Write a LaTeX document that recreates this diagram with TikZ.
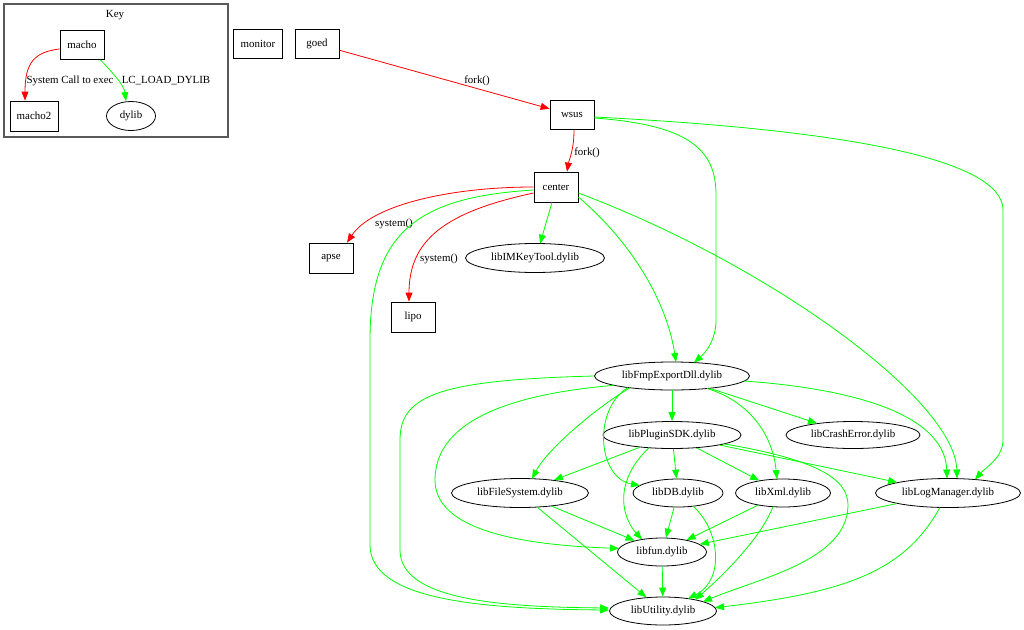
\documentclass[tikz,border=0pt]{standalone}
\usepackage{fontspec}
\setmainfont{Liberation Serif}
\usetikzlibrary{shapes.geometric,arrows.meta,calc}
\begin{document}
\begin{tikzpicture}[x=1pt,y=-1pt,
  every node/.style={font=\fontsize{10.9}{12}\selectfont},
  box/.style={draw=black,line width=0.8pt,rectangle,minimum width=44pt,minimum height=29pt,inner sep=0pt},
  lib/.style={draw=black,line width=0.8pt,ellipse,minimum height=28pt,inner sep=0pt},
  keyframe/.style={draw=black!65,line width=1.3pt,rectangle,inner sep=0pt},
  redge/.style={draw=red,line width=0.8pt,-{Triangle[length=9pt,width=7pt]}},
  gedge/.style={draw=green,line width=0.8pt,-{Triangle[length=9pt,width=7pt]}},
  lbl/.style={inner sep=1pt}
]
\useasboundingbox[fill=white] (0,0) rectangle (1024,629);

% Key
\node[keyframe,minimum width=224pt,minimum height=133pt] (keybox) at (116,70.5) {};
\node[lbl] (keytitle) at (115,15) {Key};
\node[box] (macho) at (82,45) {macho};
\node[box,minimum width=48pt,minimum height=30pt] (macho2) at (34,116) {macho2};
\node[lib,minimum width=49pt,minimum height=29pt] (dylib) at (131,116) {dylib};
\node[lbl] (lsys) at (70,81) {System Call to exec};
\node[lbl] (llc) at (166,81) {LC\_LOAD\_DYLIB};

% processes
\node[box,minimum width=49pt] (monitor) at (258,44) {monitor};
\node[box] (goed) at (317,44) {goed};
\node[box] (wsus) at (572,115) {wsus};
\node[box,minimum height=30pt] (center) at (556,187) {center};
\node[box,minimum height=30pt] (apse) at (331,258) {apse};
\node[box,minimum height=30pt] (lipo) at (413,317) {lipo};

% libraries
\node[lib,minimum width=139pt,minimum height=29pt] (imk) at (535,258) {libIMKeyTool.dylib};
\node[lib,minimum width=155pt] (libFmp) at (672,376) {libFmpExportDll.dylib};
\node[lib,minimum width=138pt,minimum height=27pt] (libPluginSDK) at (672,435) {libPluginSDK.dylib};
\node[lib,minimum width=134pt,minimum height=27pt] (libCrash) at (853,435) {libCrashError.dylib};
\node[lib,minimum width=137pt,minimum height=29pt] (libFS) at (520,493) {libFileSystem.dylib};
\node[lib,minimum width=90pt] (libDB) at (678,493) {libDB.dylib};
\node[lib,minimum width=95pt] (libXml) at (783,493) {libXml.dylib};
\node[lib,minimum width=145pt,minimum height=29pt] (libLog) at (948,493) {libLogManager.dylib};
\node[lib,minimum width=89pt] (libfun) at (662,552) {libfun.dylib};
\node[lib,minimum width=107pt] (libUtility) at (663,611) {libUtility.dylib};

% labels
\node[lbl] (lfork1) at (477,81) {fork()};
\node[lbl] (lfork2) at (587,153) {fork()};
\node[lbl] (lsys1) at (394,224) {system()};
\node[lbl] (lsys2) at (439,259) {system()};

% key edges
\draw[redge] (macho.190) .. controls (35,52) and (25,62) .. ($(macho2.north)+(-9,0)$);
\draw[gedge] ($(macho.south east)+(-4,0)$) .. controls (112,72) and (124,85) .. ($(dylib.north)+(-5,0)$);

% process edges
\draw[redge] (goed) -- (wsus);
\draw[redge] ($(wsus.south)+(2,0)$) .. controls (574,150) and (569,160) .. ($(center.north)+(11,0)$);
\draw[gedge] ($(wsus.east)+(0,3)$) .. controls (690,125) and (716,150) .. (716,195) -- (716,320) .. controls (716,340) and (706,352) .. ($(libFmp)+(22,-13.4)$);
\draw[gedge] ($(wsus.east)+(0,2)$) .. controls (850,130) and (1003,160) .. (1003,210) -- (1003,440) .. controls (1003,458) and (985,468) .. ($(libLog)+(27,-13.5)$);
\draw[redge] (center.west) .. controls (450,187) and (372,205) .. ($(apse.north)+(16,0)$);
\draw[redge] ($(center.west)+(0,6)$) .. controls (445,212) and (409,240) .. ($(lipo.north)+(-4,0)$);
\draw[gedge] ($(center.south)+(-4,0)$) -- ($(imk)+(5,-14.3)$);
\draw[gedge] ($(center.west)+(0,3)$) .. controls (420,197) and (370,230) .. (370,340) -- (370,545) .. controls (370,600) and (480,609) .. ($(libUtility.west)+(0,-1)$);
\draw[gedge] ($(center.east)+(0,10)$) .. controls (640,250) and (668,310) .. ($(libFmp)+(4,-14)$);
\draw[gedge] ($(center.east)+(0,6)$) .. controls (770,265) and (955,400) .. ($(libLog)+(9,-14.5)$);

% libFmpExportDll edges
\draw[gedge] (libFmp) -- (libPluginSDK);
\draw[gedge] (libFmp) -- (libCrash);
\draw[gedge] ($(libFmp)+(72,5)$) .. controls (870,390) and (945,420) .. ($(libLog)+(-1,-14.5)$);
\draw[gedge] ($(libFmp)+(35,12.5)$) .. controls (745,400) and (772,430) .. ($(libXml)+(-6,-13.9)$);
\draw[gedge] ($(libFmp)+(-44,11.5)$) .. controls (592,410) and (598,478) .. ($(libDB)+(-38,-7.5)$);
\draw[gedge] ($(libFmp)+(-42,11.8)$) .. controls (600,405) and (548,448) .. ($(libFS)+(12,-14.3)$);
\draw[gedge] ($(libFmp)+(-58,9.3)$) .. controls (500,395) and (435,425) .. (435,480) .. controls (435,530) and (520,545) .. ($(libfun)+(-43,-3.6)$);
\draw[gedge] (libFmp.west) .. controls (440,380) and (400,395) .. (400,440) -- (400,550) .. controls (400,600) and (500,607) .. ($(libUtility.west)+(0,-3)$);

% libPluginSDK edges
\draw[gedge] (libPluginSDK) -- (libFS);
\draw[gedge] (libPluginSDK) -- (libDB);
\draw[gedge] (libPluginSDK) -- (libXml);
\draw[gedge] (libPluginSDK) -- (libLog);
\draw[gedge] ($(libPluginSDK)+(-23,12.7)$) .. controls (615,480) and (620,515) .. ($(libfun)+(-20,-12.5)$);
\draw[gedge] ($(libPluginSDK)+(52,8.9)$) .. controls (820,460) and (848,480) .. (848,505) .. controls (848,560) and (760,578) .. ($(libUtility)+(40,-9.3)$);

% lower edges
\draw[gedge] (libFS) -- (libfun);
\draw[gedge] (libFS) -- (libUtility);
\draw[gedge] (libDB) -- (libfun);
\draw[gedge] ($(libDB)+(15,13.2)$) .. controls (720,530) and (725,580) .. ($(libUtility)+(25,-12.4)$);
\draw[gedge] (libXml) -- (libfun);
\draw[gedge] ($(libXml)+(-10,13.7)$) .. controls (760,540) and (720,578) .. ($(libUtility)+(32,-11.2)$);
\draw[gedge] (libLog) -- (libfun);
\draw[gedge] ($(libLog)+(-8,14.4)$) .. controls (905,570) and (850,592) .. ($(libUtility)+(52,-3.3)$);
\draw[gedge] (libfun) -- (libUtility);
\end{tikzpicture}
\end{document}
